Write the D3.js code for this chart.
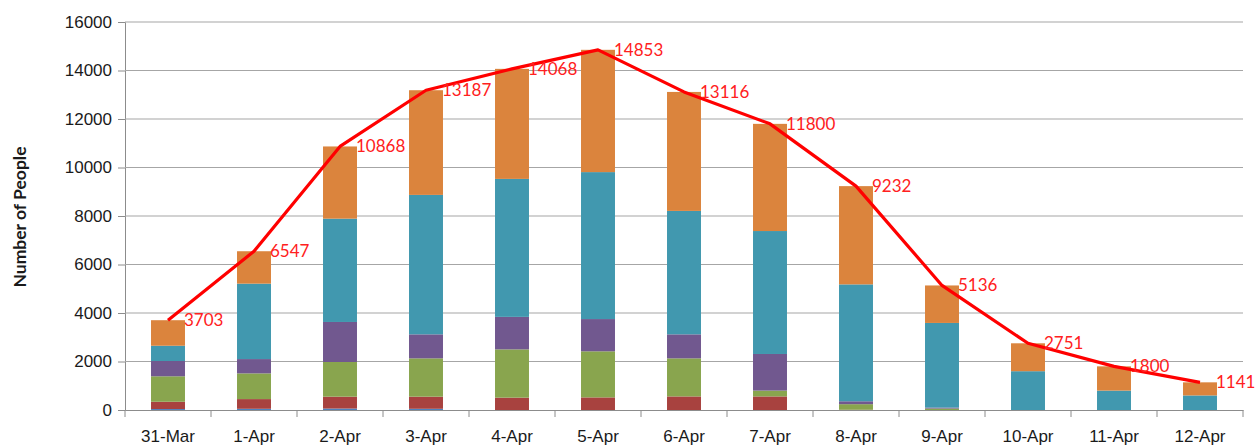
<!DOCTYPE html>
<html>
<head>
<meta charset="utf-8">
<script src="https://cdn.jsdelivr.net/npm/d3@7"></script>
<style>
  body { margin: 0; background: #fff; }
  svg { display: block; font-family: Lato, "Open Sans", sans-serif; }
</style>
</head>
<body>
<div class="chart"></div>
<script>
var dates = ["31-Mar", "1-Apr", "2-Apr", "3-Apr", "4-Apr", "5-Apr", "6-Apr",
             "7-Apr", "8-Apr", "9-Apr", "10-Apr", "11-Apr", "12-Apr"];

// stacked segments, bottom to top
var blue   = [40, 50, 60, 50, 0, 0, 0, 0, 0, 0, 0, 0, 0];
var red    = [300, 400, 490, 500, 510, 520, 560, 560, 10, 0, 0, 0, 0];
var green  = [1050, 1060, 1430, 1580, 1990, 1900, 1570, 240, 230, 60, 0, 0, 0];
var purple = [630, 590, 1650, 990, 1340, 1330, 990, 1510, 120, 40, 0, 0, 0];
var teal   = [630, 3110, 4260, 5750, 5690, 6060, 5090, 5070, 4820, 3490, 1600, 800, 600];
var orange = [1053, 1337, 2978, 4317, 4538, 5043, 4906, 4420, 4052, 1546, 1151, 1000, 541];

var totals = [3703, 6547, 10868, 13187, 14068, 14853, 13116, 11800, 9232, 5136, 2751, 1800, 1141];

var yTicks = [0, 2000, 4000, 6000, 8000, 10000, 12000, 14000, 16000];

var seriesNames = ["blue", "red", "green", "purple", "teal", "orange"];
var seriesColors = ["#4f81bd", "#a8423f", "#89a54e", "#71588f", "#4198af", "#db843d"];
var seriesValues = [blue, red, green, purple, teal, orange];

var opts = { width: 1258, height: 446, left: 125, right: 15, top: 22, bottom: 36 };

var svg = d3.select('.chart').append('svg')
  .attr('width', opts.width)
  .attr('height', opts.height);

var x = d3.scaleBand()
  .domain(dates)
  .range([opts.left, opts.width - opts.right]);

var y = d3.scaleLinear()
  .domain([0, 16000])
  .range([opts.height - opts.bottom, opts.top]);

// table for the stack
var rows = dates.map(function(d, i) {
  var row = { date: d };
  seriesNames.forEach(function(name, k) { row[name] = seriesValues[k][i]; });
  return row;
});
var stacked = d3.stack().keys(seriesNames)(rows);

// gridlines + y axis labels
var yAxis = svg.append('g')
  .attr('transform', 'translate(' + opts.left + ',0)')
  .call(d3.axisLeft(y).tickValues(yTicks).tickSize(7).tickPadding(6)
    .tickFormat(d3.format('d')));
yAxis.select('.domain').attr('stroke', '#8c8c8c');
yAxis.selectAll('.tick line').attr('stroke', '#8c8c8c');
yAxis.selectAll('.tick text').attr('fill', '#1a1a1a').style('font-size', '17px');

svg.append('g').selectAll('line.grid')
  .data(yTicks.slice(1))
  .enter().append('line')
  .attr('class', 'grid')
  .attr('x1', opts.left).attr('x2', opts.width - opts.right)
  .attr('y1', function(d) { return y(d); })
  .attr('y2', function(d) { return y(d); })
  .attr('stroke', '#a6a6a6')
  .attr('stroke-width', 1.2);

// bars
var barW = x.bandwidth() * 0.395;
svg.append('g').selectAll('g.series')
  .data(stacked)
  .enter().append('g')
  .attr('class', 'series')
  .attr('fill', function(d, i) { return seriesColors[i]; })
  .selectAll('rect')
  .data(function(d) { return d; })
  .enter().append('rect')
  .attr('x', function(d) { return x(d.data.date) + (x.bandwidth() - barW) / 2; })
  .attr('width', barW)
  .attr('y', function(d) { return y(d[1]); })
  .attr('height', function(d) { return y(d[0]) - y(d[1]); });

// x axis
var xAxis = svg.append('g')
  .attr('transform', 'translate(0,' + y(0) + ')')
  .call(d3.axisBottom(x).tickSize(0).tickPadding(20));
xAxis.select('.domain').attr('stroke', '#8c8c8c');
xAxis.selectAll('.tick text').attr('fill', '#1a1a1a').style('font-size', '17px');

// tick marks on category boundaries
svg.append('g').selectAll('line.xtick')
  .data(d3.range(dates.length + 1))
  .enter().append('line')
  .attr('class', 'xtick')
  .attr('x1', function(i) { return opts.left + i * x.step(); })
  .attr('x2', function(i) { return opts.left + i * x.step(); })
  .attr('y1', y(0))
  .attr('y2', y(0) + 7)
  .attr('stroke', '#8c8c8c');

// total line
var line = d3.line()
  .x(function(d, i) { return x(dates[i]) + x.bandwidth() / 2; })
  .y(function(d) { return y(d); });

svg.append('path')
  .datum(totals)
  .attr('d', line)
  .attr('fill', 'none')
  .attr('stroke', '#ff0000')
  .attr('stroke-width', 3.2)
  .attr('stroke-linejoin', 'round');

svg.append('g').selectAll('text.total')
  .data(totals)
  .enter().append('text')
  .attr('class', 'total')
  .attr('x', function(d, i) { return x(dates[i]) + x.bandwidth() / 2 + 16; })
  .attr('y', function(d) { return y(d); })
  .attr('dy', '0.35em')
  .attr('fill', '#ff2020')
  .style('font-size', '17px')
  .text(function(d) { return d; });

// y axis title
svg.append('text')
  .attr('transform', 'translate(26,217) rotate(-90)')
  .attr('text-anchor', 'middle')
  .attr('fill', '#1a1a1a')
  .style('font-size', '17.5px')
  .style('font-weight', 'bold')
  .text('Number of People');
</script>
</body>
</html>
